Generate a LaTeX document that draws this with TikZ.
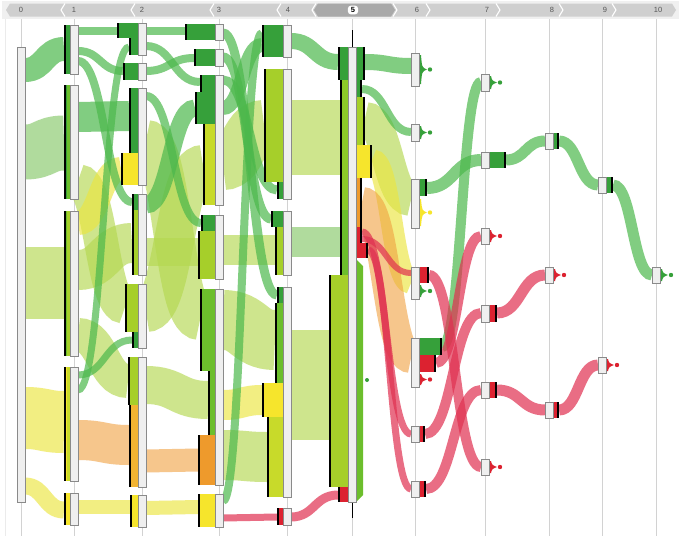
\documentclass[tikz,border=0pt]{standalone}
\usepackage{fontspec}
\setsansfont{Liberation Sans}
\definecolor{dkg}{HTML}{36A03A}
\definecolor{grn}{HTML}{6CBE2C}
\definecolor{grnL}{HTML}{8CC828}
\definecolor{ygA}{HTML}{A6CF2A}
\definecolor{ygB}{HTML}{C8DA2A}
\definecolor{yel}{HTML}{F6E52C}
\definecolor{org}{HTML}{EE9A2C}
\definecolor{orgL}{HTML}{F2B432}
\definecolor{rd}{HTML}{DC2230}
\definecolor{cfG}{HTML}{4CB84C}
\definecolor{cfYG}{HTML}{B4D850}
\definecolor{cfLG}{HTML}{7CC45C}
\definecolor{cfY}{HTML}{ECE540}
\definecolor{cfO}{HTML}{F0A040}
\definecolor{cfR}{HTML}{E03050}
\definecolor{wbfill}{HTML}{EFEFEF}
\definecolor{wbdraw}{HTML}{8A8A8A}
\definecolor{axisc}{HTML}{D2D2D2}
\definecolor{hdr}{HTML}{CFCFCF}
\definecolor{hdrsel}{HTML}{A9A9A9}
\definecolor{hdrtxt}{HTML}{555555}
\newcommand{\flw}[6]{\draw[#1, line width=#2pt] (#3,#4) .. controls ({(#3+#5)/2},#4) and ({(#3+#5)/2},#6) .. (#5,#6);}
\newcommand{\inbar}[5]{\fill[#5] (#1,#2) rectangle (#3,#4); \draw[black, line width=1.7pt] ({#1+0.85},#2) -- ({#1+0.85},#4);}
\newcommand{\outbar}[5]{\fill[#5] (#1,#2) rectangle (#3,#4); \draw[black, line width=1.7pt] ({#3-0.85},#2) -- ({#3-0.85},#4);}
\newcommand{\strip}[5]{\fill[#5] (#1,#2) rectangle (#3,#4);}
\newcommand{\wbar}[3]{\draw[wb] ({#1-4},#2) rectangle ({#1+4},#3);}
\newcommand{\tipshape}[4]{\fill[#4] (#1,{#2+2}) -- ({#1+2},{#2+2}) .. controls ({#1+3},{(#2+#3)/2-2}) .. ({#1+8},{(#2+#3)/2}) .. controls ({#1+3},{(#2+#3)/2+2}) .. ({#1+2},{#3-2}) -- (#1,{#3-2}) -- cycle; \fill[#4] ({#1+11},{(#2+#3)/2}) circle (2.2);}
\begin{document}
\begin{tikzpicture}[x=1pt,y=-1pt,
  fG/.style={draw=cfG, draw opacity=.7},
  fYG/.style={draw=cfYG, draw opacity=.65},
  fLG/.style={draw=cfLG, draw opacity=.6},
  fY/.style={draw=cfY, draw opacity=.65},
  fO/.style={draw=cfO, draw opacity=.6},
  fR/.style={draw=cfR, draw opacity=.7},
  wb/.style={fill=wbfill, draw=wbdraw, line width=0.7pt},
  axisline/.style={draw=axisc, line width=0.8pt},
  sep/.style={draw=white, line width=1.1pt},
  lab/.style={font=\sffamily\fontsize{7.5}{8}\selectfont, text=hdrtxt, inner sep=0pt}]
\useasboundingbox (0,0) rectangle (681,536);
\fill[white] (0,0) rectangle (681,536);
\draw[draw=black!8, line width=0.6pt] (5,19) -- (5,536);
% axis lines
\foreach \xx in {21,74,142,219,287,352,415,485,549,602,656} \draw[axisline] (\xx,18) -- (\xx,536);
% header
\fill[black!6] (2,1) rectangle (679,19);
\fill[hdr] (6,10) -- (10,3.5) -- (672,3.5) -- (676,10) -- (672,16.5) -- (10,16.5) -- cycle;
\fill[hdrsel] (314,10) -- (318,3.5) -- (391,3.5) -- (395,10) -- (391,16.5) -- (318,16.5) -- cycle;
\foreach \xx in {61,131,210,277,312} \draw[sep] (\xx+4,3.5) -- (\xx,10) -- (\xx+4,16.5);
\foreach \xx in {397,430,500,563,616} \draw[sep] (\xx-4,3.5) -- (\xx,10) -- (\xx-4,16.5);
\node[lab] (h0) at (21,10) {0};
\node[lab] (h1) at (74,10) {1};
\node[lab] (h2) at (142,10) {2};
\node[lab] (h3) at (219,10) {3};
\node[lab] (h4) at (288,10) {4};
\node[lab, fill=white, rounded corners=3pt, inner xsep=3pt, inner ysep=1.8pt, text=black, font=\sffamily\bfseries\fontsize{7.5}{8}\selectfont] (h5) at (353,10) {5};
\node[lab] (h6) at (417,10) {6};
\node[lab] (h7) at (487,10) {7};
\node[lab] (h8) at (552,10) {8};
\node[lab] (h9) at (605,10) {9};
\node[lab] (h10) at (658,10) {10};
% column 5 line
\draw[black, line width=0.9pt] (352,30) -- (352,518);
% ---------- flows ----------
% col0 -> col1
\flw{fG}{24}{25}{70}{64}{49}
\flw{fLG}{55}{25}{152}{64}{143}
\flw{fYG}{72}{25}{283}{64}{283}
\flw{fY}{62}{25}{418}{64}{422}
\flw{fY}{17}{25}{486}{64}{510}
% col1 -> col2
\flw{fYG}{34}{78}{181}{125}{307}
\flw{fYG}{40}{78}{270}{132}{243}
\flw{fYG}{34}{78}{335}{128}{381}
\flw{fO}{40}{78}{440}{129}{445}
\flw{fY}{14}{78}{507}{130}{507}
\flw{fY}{24}{78}{223}{121}{169}
\flw{fG}{30}{78}{117}{129}{116}
\flw{fG}{8}{78}{31}{117}{31}
\flw{fG}{8}{78}{51}{123}{71}
\flw{fG}{8}{78}{61}{132}{202}
\flw{fG}{7}{78}{375}{132}{340}
\flw{fG}{7}{78}{390}{129}{47}
% col2 -> col3
\flw{fYG}{40}{146}{140}{200}{320}
\flw{fYG}{28}{146}{252}{198}{252}
\flw{fYG}{40}{146}{312}{203}{165}
\flw{fYG}{38}{146}{385}{208}{400}
\flw{fO}{23}{146}{461}{198}{460}
\flw{fY}{14}{146}{508}{198}{507}
\flw{fG}{8}{146}{31}{185}{31}
\flw{fG}{8}{146}{46}{200}{82}
\flw{fG}{8}{146}{71}{194}{58}
\flw{fG}{8}{146}{96}{201}{223}
\flw{fG}{17}{146}{205}{195}{108}
% col3 -> col4
\flw{fYG}{50}{223}{165}{264}{125}
\flw{fYG}{30}{223}{250}{275}{250}
\flw{fYG}{60}{223}{320}{275}{340}
\flw{fY}{30}{223}{405}{262}{400}
\flw{fYG}{50}{223}{455}{267}{457}
\flw{fG}{9}{223}{33}{277}{295}
\flw{fG}{9}{223}{57}{271}{219}
\flw{fG}{14}{223}{108}{262}{45}
\flw{fG}{8}{223}{501}{262}{33}
\flw{fG}{9}{223}{80}{277}{190}
\flw{fR}{7}{223}{518}{277}{517}
% col4 -> col5
\flw{fYG}{75}{291}{137}{340}{137}
\flw{fLG}{30}{291}{242}{340}{242}
\flw{fYG}{110}{291}{385}{329}{385}
\flw{fG}{16}{291}{41}{338}{62}
\flw{fR}{9}{291}{517}{338}{495}
% col5 -> col6
\flw{fYG}{32}{365}{118}{411}{200}
\flw{fY}{22}{372}{160}{411}{283}
\flw{fO}{30}{362}{202}{411}{358}
\flw{fG}{16}{365}{62}{411}{66}
\flw{fG}{8}{362}{89}{411}{132}
\flw{fR}{7}{362}{232}{411}{434}
\flw{fR}{6}{362}{239}{411}{273}
\flw{fR}{7}{368}{250}{411}{489}
% col6 -> col7
\flw{fG}{12}{427}{188}{481}{160}
\flw{fG}{10}{442}{347}{481}{82}
\flw{fR}{10}{429}{275}{481}{467}
\flw{fR}{10}{436}{363}{481}{236}
\flw{fR}{10}{425}{434}{481}{313}
\flw{fR}{10}{426}{489}{481}{390}
% col7 -> col8
\flw{fG}{11}{506}{160}{545}{141}
\flw{fR}{11}{497}{313}{545}{275}
\flw{fR}{11}{497}{390}{545}{410}
% col8 -> col9
\flw{fG}{11}{559}{141}{598}{185}
\flw{fR}{11}{559}{410}{598}{365}
% col9 -> col10
\flw{fG}{11}{613}{185}{652}{275}
% ---------- coloured bars ----------
% col1
\inbar{64}{25}{70}{74}{dkg}
\inbar{64}{85}{70}{199}{dkg}\strip{67}{85}{70}{199}{grn}
\inbar{64}{211}{70}{356}{grn}\strip{67}{211}{70}{356}{ygA}
\inbar{64}{367}{70}{481}{yel}\strip{67}{367}{70}{481}{ygB}
\inbar{64}{493}{70}{525}{yel}
% col2
\inbar{117}{23}{138}{38}{dkg}
\inbar{129}{38}{138}{55}{dkg}
\inbar{123}{63}{138}{80}{dkg}
\inbar{129}{88}{138}{153}{dkg}
\inbar{121}{153}{138}{185}{yel}
\inbar{132}{194}{138}{210}{dkg}
\inbar{132}{210}{138}{275}{ygA}
\inbar{125}{284}{138}{332}{ygA}
\inbar{132}{332}{138}{348}{dkg}
\inbar{128}{357}{138}{405}{ygA}
\inbar{129}{405}{138}{487}{orgL}
\inbar{130}{495}{138}{527}{yel}
% col3
\inbar{185}{24}{215}{40}{dkg}
\inbar{194}{49}{215}{66}{dkg}
\inbar{200}{75}{215}{92}{dkg}
\inbar{195}{92}{215}{124}{dkg}
\inbar{203}{124}{215}{205}{ygB}
\inbar{201}{215}{215}{231}{dkg}
\inbar{198}{231}{215}{279}{ygA}
\inbar{200}{289}{215}{371}{grn}
\inbar{208}{371}{215}{435}{grn}
\inbar{198}{435}{215}{485}{org}
\inbar{198}{494}{215}{527}{yel}
% col4
\inbar{262}{25}{283}{57}{dkg}
\inbar{264}{69}{283}{182}{ygA}
\inbar{277}{182}{283}{199}{dkg}
\inbar{271}{211}{283}{227}{dkg}
\inbar{275}{227}{283}{275}{ygA}
\inbar{277}{287}{283}{303}{dkg}
\inbar{275}{303}{283}{383}{grn}
\inbar{262}{383}{283}{417}{yel}
\inbar{267}{417}{283}{497}{ygB}
\inbar{277}{508}{283}{525}{rd}
% col5 left
\inbar{338}{47}{348}{80}{dkg}
\inbar{340}{80}{348}{210}{grnL}
\inbar{340}{210}{348}{275}{grn}
\inbar{329}{275}{348}{487}{ygA}
\inbar{338}{487}{348}{502}{rd}
% col5 right
\outbar{356}{47}{365}{80}{dkg}
\outbar{356}{80}{362}{97}{dkg}
\outbar{356}{97}{365}{145}{ygA}
\outbar{356}{145}{372}{178}{yel}
\outbar{356}{178}{362}{227}{org}
\outbar{356}{227}{362}{243}{rd}
\outbar{356}{243}{368}{258}{rd}
\fill[grn] (356,259) -- (363,266) -- (363,495) -- (356,502) -- cycle;
\fill[dkg] (367,380) circle (2);
% col6
\outbar{419}{179}{427}{196}{dkg}
\outbar{419}{267}{429}{283}{rd}
\outbar{419}{338}{442}{355}{dkg}
\outbar{419}{355}{436}{372}{rd}
\outbar{419}{426}{425}{442}{rd}
\outbar{419}{481}{426}{497}{rd}
\tipshape{419}{53}{86}{dkg}
\tipshape{419}{124}{141}{dkg}
\tipshape{419}{197}{228}{yel}
\tipshape{419}{283}{299}{dkg}
\tipshape{419}{372}{387}{rd}
% col7
\tipshape{489}{74}{91}{dkg}
\outbar{489}{152}{506}{168}{dkg}
\tipshape{489}{228}{244}{rd}
\outbar{489}{305}{497}{322}{rd}
\outbar{489}{382}{497}{398}{rd}
\tipshape{489}{459}{475}{rd}
% col8
\outbar{553}{133}{559}{149}{dkg}
\tipshape{553}{267}{283}{rd}
\outbar{553}{402}{559}{418}{rd}
% col9
\outbar{606}{177}{613}{193}{dkg}
\tipshape{606}{357}{373}{rd}
% col10
\tipshape{660}{267}{283}{dkg}
% ---------- white bars ----------
\wbar{21}{47}{502}
\wbar{74}{25}{74}\wbar{74}{85}{199}\wbar{74}{211}{356}\wbar{74}{367}{481}\wbar{74}{493}{525}
\wbar{142}{23}{55}\wbar{142}{63}{80}\wbar{142}{88}{185}\wbar{142}{194}{275}\wbar{142}{284}{348}\wbar{142}{357}{487}\wbar{142}{495}{527}
\wbar{219}{24}{40}\wbar{219}{49}{66}\wbar{219}{75}{205}\wbar{219}{215}{279}\wbar{219}{289}{485}\wbar{219}{494}{527}
\wbar{287}{25}{57}\wbar{287}{69}{199}\wbar{287}{211}{275}\wbar{287}{287}{497}\wbar{287}{508}{525}
\wbar{352}{47}{502}
\wbar{415}{53}{86}\wbar{415}{124}{141}\wbar{415}{179}{228}\wbar{415}{267}{299}\wbar{415}{338}{387}\wbar{415}{426}{442}\wbar{415}{481}{497}
\wbar{485}{74}{91}\wbar{485}{152}{168}\wbar{485}{228}{244}\wbar{485}{305}{322}\wbar{485}{382}{398}\wbar{485}{459}{475}
\wbar{549}{133}{149}\wbar{549}{267}{283}\wbar{549}{402}{418}
\wbar{602}{177}{193}\wbar{602}{357}{373}
\wbar{656}{267}{283}
\end{tikzpicture}
\end{document}
